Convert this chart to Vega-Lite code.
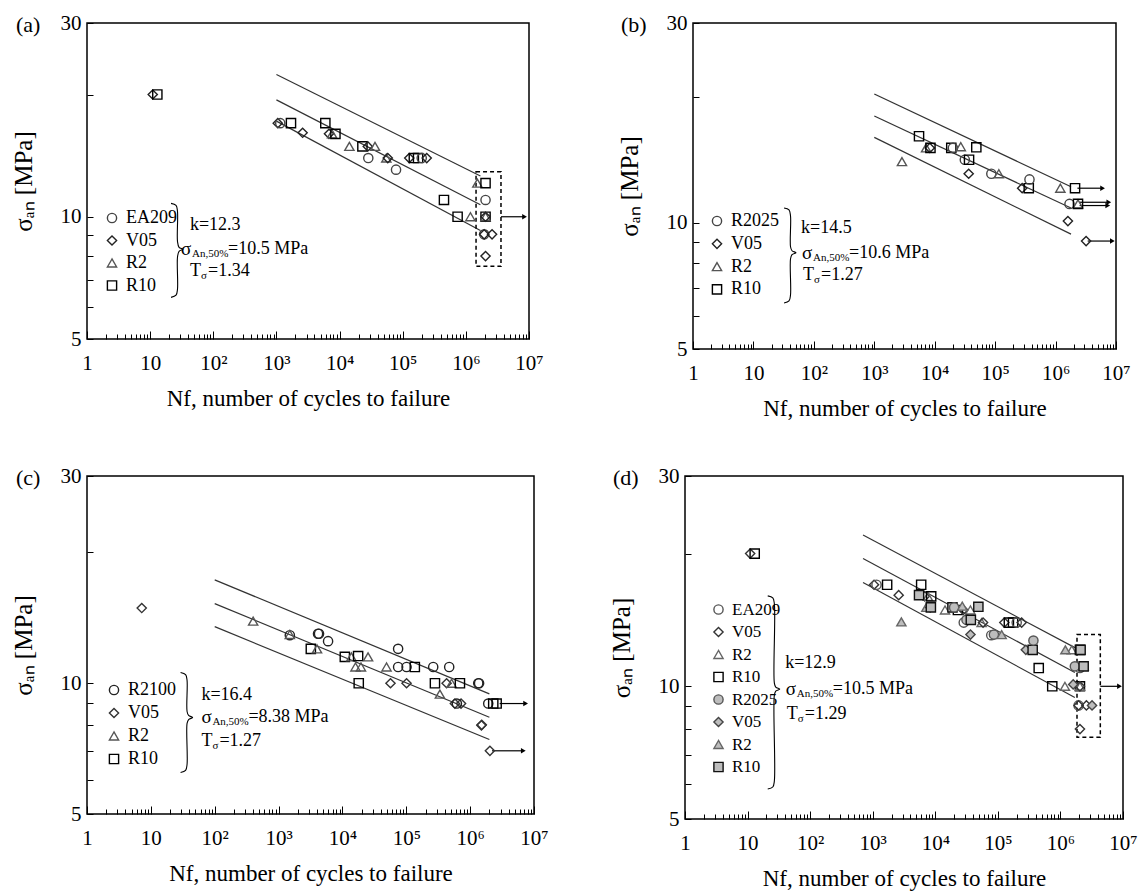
{
"$schema": "https://vega.github.io/schema/vega-lite/v6.json",
"background": "white",
"padding": {"left": 10, "top": 11, "right": 5, "bottom": 5},
"datasets": {
"a": [
{"s":"V05","N":11,"S":20.0},{"s":"R10","N":13,"S":20.0},
{"s":"V05","N":1050,"S":17.0},{"s":"EA209","N":1150,"S":17.0},{"s":"R10","N":1700,"S":17.0},
{"s":"V05","N":2600,"S":16.1},{"s":"R10","N":5950,"S":17.0},{"s":"V05","N":6800,"S":16.0},
{"s":"R2","N":7600,"S":16.0},{"s":"R10","N":8600,"S":16.0},{"s":"R2","N":14300,"S":14.9},
{"s":"R10","N":23000,"S":14.9},{"s":"V05","N":28000,"S":14.9},{"s":"R2","N":36400,"S":14.9},
{"s":"EA209","N":28500,"S":13.95},{"s":"R2","N":55000,"S":13.95},{"s":"V05","N":58000,"S":13.95},
{"s":"EA209","N":78400,"S":13.06},{"s":"V05","N":127000,"S":13.95},{"s":"R10","N":150000,"S":13.95},
{"s":"R10","N":175000,"S":13.95},{"s":"EA209","N":200000,"S":13.95},{"s":"V05","N":240000,"S":13.95},
{"s":"R2","N":1520000,"S":12.1},{"s":"R10","N":2050000,"S":12.1},{"s":"EA209","N":2050000,"S":11.0},
{"s":"R10","N":450000,"S":11.0},{"s":"R10","N":740000,"S":10.0},{"s":"R2","N":1180000,"S":10.0},
{"s":"R10","N":2050000,"S":10.0},{"s":"R2","N":2050000,"S":10.0},{"s":"V05","N":2050000,"S":10.0},
{"s":"EA209","N":1950000,"S":9.05},{"s":"V05","N":1950000,"S":9.05},{"s":"V05","N":2600000,"S":9.05},
{"s":"V05","N":2050000,"S":8.0}
],
"b": [
{"s":"R2b","N":2870,"S":14.0},{"s":"R10b","N":5500,"S":16.1},{"s":"R2b","N":7200,"S":15.1},
{"s":"V05b","N":8300,"S":15.1},{"s":"R10b","N":8500,"S":15.1},{"s":"R10b","N":18800,"S":15.1},
{"s":"R2025","N":20000,"S":15.1},{"s":"R2b","N":27000,"S":15.2},{"s":"R10b","N":48800,"S":15.15},
{"s":"R2025","N":31500,"S":14.15},{"s":"R10b","N":37000,"S":14.15},{"s":"V05b","N":36500,"S":13.1},
{"s":"R2025","N":86500,"S":13.1},{"s":"R2b","N":115000,"S":13.1},{"s":"V05b","N":280000,"S":12.1},
{"s":"R10b","N":360000,"S":12.1},{"s":"R2025","N":370000,"S":12.7},{"s":"R2b","N":1200000,"S":12.1},
{"s":"R10b","N":2100000,"S":12.1},{"s":"R2025","N":1700000,"S":11.1},{"s":"R2b","N":2350000,"S":11.1},
{"s":"R10b","N":2350000,"S":11.1},{"s":"V05b","N":1600000,"S":10.1},{"s":"V05b","N":3200000,"S":9.05}
],
"c": [
{"s":"V05","N":7.2,"S":14.9},{"s":"R2","N":400,"S":13.9},{"s":"R2100","N":1500,"S":12.9},
{"s":"R2","N":1500,"S":12.95},{"s":"R2100","N":4150,"S":13.0},{"s":"R2100","N":4300,"S":13.0},
{"s":"R2100","N":5960,"S":12.5},{"s":"R10","N":3200,"S":12.0},{"s":"R2","N":4000,"S":12.0},
{"s":"R10","N":10900,"S":11.5},{"s":"R2","N":13800,"S":11.5},{"s":"R10","N":17600,"S":11.55},
{"s":"R2","N":25200,"S":11.5},{"s":"R2","N":16000,"S":10.9},{"s":"R2","N":19500,"S":10.9},
{"s":"R10","N":18000,"S":10.0},{"s":"R2100","N":74500,"S":12.0},{"s":"R2","N":49000,"S":10.9},
{"s":"R2100","N":74500,"S":10.9},{"s":"R2100","N":101000,"S":10.9},{"s":"R10","N":136000,"S":10.9},
{"s":"V05","N":56600,"S":10.0},{"s":"V05","N":101000,"S":10.0},{"s":"R2100","N":264000,"S":10.9},
{"s":"R2100","N":470000,"S":10.9},{"s":"R10","N":281000,"S":10.0},{"s":"V05","N":428000,"S":10.0},
{"s":"R2","N":512000,"S":10.0},{"s":"R10","N":692000,"S":10.0},{"s":"R2","N":336000,"S":9.44},
{"s":"R2100","N":1340000,"S":10.0},{"s":"R2100","N":1380000,"S":10.0},{"s":"V05","N":577000,"S":8.98},
{"s":"V05","N":720000,"S":8.98},{"s":"R2100","N":620000,"S":8.98},{"s":"R2100","N":1920000,"S":8.98},
{"s":"R10","N":2300000,"S":8.98},{"s":"R10","N":2600000,"S":8.98},{"s":"V05","N":1500000,"S":8.0},
{"s":"V05","N":1520000,"S":8.02},{"s":"V05","N":2040000,"S":6.99}
],
"lines_a": [{"N":1000,"S":22.4,"N2":1700000,"S2":12.6},{"N":1000,"S":19.4,"N2":1700000,"S2":10.7},{"N":1000,"S":17.2,"N2":1700000,"S2":9.25}],
"lines_b": [{"N":1000,"S":20.3,"N2":1800000,"S2":12.2},{"N":1000,"S":18.0,"N2":1800000,"S2":10.85},{"N":1000,"S":16.0,"N2":1800000,"S2":9.4}],
"lines_c": [{"N":100,"S":17.3,"N2":2000000,"S2":9.45},{"N":100,"S":15.25,"N2":2000000,"S2":8.35},{"N":100,"S":13.5,"N2":2000000,"S2":7.42}],
"lines_d": [{"N":700,"S":22.05,"N2":1700000,"S2":12.24},{"N":700,"S":19.5,"N2":1700000,"S2":10.75},{"N":700,"S":17.2,"N2":1700000,"S2":9.43}],
"rect_a": [{"N":1450000,"N2":3600000,"S":7.55,"S2":12.9}],
"rect_d": [{"N":1840000,"N2":4340000,"S":7.66,"S2":13.1}],
"arr_a": [{"N0":3600000,"N":8500000,"S":10.0}],
"arr_b": [{"N0":2300000,"N":6000000,"S":12.1},{"N0":2500000,"N":7600000,"S":11.2},{"N0":2500000,"N":7300000,"S":11.0},{"N0":3400000,"N":8700000,"S":9.05}],
"arr_c": [{"N0":2900000,"N":7400000,"S":8.98},{"N0":2200000,"N":6800000,"S":6.99}],
"arr_d": [{"N0":4340000,"N":8800000,"S":10.0}],
"brace_a": [{"i":1,"N":21.4,"S":10.79},{"i":2,"N":25.7,"S":10.67},{"i":3,"N":27.1,"S":10.31},{"i":4,"N":27.1,"S":8.70},{"i":5,"N":28.7,"S":8.41},{"i":6,"N":33.1,"S":8.32},{"i":7,"N":28.7,"S":8.22},{"i":8,"N":27.1,"S":7.95},{"i":9,"N":27.1,"S":6.63},{"i":10,"N":25.7,"S":6.41},{"i":11,"N":21.4,"S":6.33}],
"brace_b": [{"i":1,"N":32.1,"S":10.85},{"i":2,"N":38.8,"S":10.74},{"i":3,"N":41.1,"S":10.38},{"i":4,"N":41.1,"S":8.77},{"i":5,"N":43.5,"S":8.58},{"i":6,"N":50.6,"S":8.49},{"i":7,"N":43.5,"S":8.40},{"i":8,"N":41.1,"S":8.21},{"i":9,"N":41.1,"S":6.74},{"i":10,"N":38.8,"S":6.51},{"i":11,"N":32.1,"S":6.44}],
"brace_c": [{"i":1,"N":29.2,"S":10.59},{"i":2,"N":35.0,"S":10.47},{"i":3,"N":36.9,"S":10.15},{"i":4,"N":36.9,"S":8.61},{"i":5,"N":39.0,"S":8.43},{"i":6,"N":45.1,"S":8.34},{"i":7,"N":39.0,"S":8.25},{"i":8,"N":36.9,"S":8.08},{"i":9,"N":36.9,"S":6.51},{"i":10,"N":35.0,"S":6.30},{"i":11,"N":29.2,"S":6.23}],
"brace_d": [{"i":1,"N":21.0,"S":16.04},{"i":2,"N":25.3,"S":15.87},{"i":3,"N":26.8,"S":15.38},{"i":4,"N":26.8,"S":10.17},{"i":5,"N":28.2,"S":9.96},{"i":6,"N":32.7,"S":9.86},{"i":7,"N":28.2,"S":9.75},{"i":8,"N":26.8,"S":9.55},{"i":9,"N":26.8,"S":6.10},{"i":10,"N":25.3,"S":5.91},{"i":11,"N":21.0,"S":5.85}]
},
"config": {
"font": "Liberation Serif",
"view": {"stroke": "#000", "strokeWidth": 1.5},
"axis": {"labelFont": "Liberation Serif", "titleFont": "Liberation Serif", "labelFontSize": 21, "titleFontSize": 23, "titleFontWeight": "normal", "labelColor": "#000", "titleColor": "#000", "tickColor": "#000", "tickWidth": 1, "domain": false, "grid": false},
"legend": {"labelFont": "Liberation Serif", "labelColor": "#000", "symbolStrokeWidth": 1.4, "symbolSize": 85, "padding": 0, "labelOffset": 5},
"text": {"font": "Liberation Serif", "color": "#000"}
},
"resolve": {"scale": {"shape": "independent", "fill": "independent", "stroke": "independent"}},
"spacing": 43,
"vconcat": [
{
"spacing": 72,
"resolve": {"scale": {"shape": "independent", "fill": "independent", "stroke": "independent"}},
"hconcat": [
{
"width": 442, "height": 316,
"title": {"text": "(a)", "anchor": "start", "frame": "group", "dx": -71, "offset": -35, "baseline": "middle", "fontSize": 22, "fontWeight": "normal", "font": "Liberation Serif", "color": "#000"},
"encoding": {
"x": {"field": "N", "type": "quantitative", "title": "Nf, number of cycles to failure", "scale": {"type": "log", "domain": [1, 10000000], "nice": false},
 "axis": {"values": [1,2,3,4,5,6,7,8,9,10,20,30,40,50,60,70,80,90,100,200,300,400,500,600,700,800,900,1000,2000,3000,4000,5000,6000,7000,8000,9000,10000,20000,30000,40000,50000,60000,70000,80000,90000,100000,200000,300000,400000,500000,600000,700000,800000,900000,1000000,2000000,3000000,4000000,5000000,6000000,7000000,8000000,9000000,10000000],
 "labelExpr": "datum.value == 1 ? '1' : datum.value == 10 ? '10' : datum.value == 100 ? '10²' : datum.value == 1000 ? '10³' : datum.value == 10000 ? '10⁴' : datum.value == 100000 ? '10⁵' : datum.value == 1000000 ? '10⁶' : datum.value == 10000000 ? '10⁷' : ''",
 "tickSize": {"condition": {"test": "indexof([1,10,100,1000,10000,100000,1000000,10000000], datum.value) >= 0", "value": -8}, "value": -5},
 "labelPadding": 21, "labelFlush": false, "labelOverlap": false, "minExtent": 32, "maxExtent": 32, "titlePadding": 16}},
"y": {"field": "S", "type": "quantitative", "title": "σₐₙ [MPa]", "scale": {"type": "log", "domain": [5, 30], "nice": false},
 "axis": {"values": [5,6,7,8,9,10,20,30], "labelExpr": "datum.value == 5 ? '5' : datum.value == 10 ? '10' : datum.value == 30 ? '30' : ''", "tickSize": -6, "labelPadding": 12, "minExtent": 30, "maxExtent": 30, "titlePadding": 21, "titleFontSize": 25}}
},
"layer": [
{"data": {"name": "lines_a"}, "mark": {"type": "rule", "color": "#333", "strokeWidth": 1.2}, "encoding": {"x2": {"field": "N2"}, "y2": {"field": "S2"}}},
{"data": {"name": "rect_a"}, "mark": {"type": "rect", "fill": "transparent", "stroke": "#000", "strokeWidth": 1.5, "strokeDash": [4, 3]}, "encoding": {"x2": {"field": "N2"}, "y2": {"field": "S2"}}},
{"data": {"name": "arr_a"}, "mark": {"type": "rule", "color": "#000", "strokeWidth": 1.2}, "encoding": {"x2": {"field": "N0"}}},
{"data": {"name": "arr_a"}, "mark": {"type": "point", "shape": "triangle-right", "filled": true, "color": "#000", "size": 30, "opacity": 1}},
{"data": {"name": "a"}, "mark": {"type": "point", "filled": true, "size": 85, "strokeWidth": 1.4, "opacity": 1},
 "encoding": {
 "shape": {"field": "s", "type": "nominal", "scale": {"domain": ["EA209","V05","R2","R10"], "range": ["circle","diamond","triangle-up","square"]}, "legend": {"orient": "none", "legendX": 16, "legendY": 186, "title": null, "labelFont": "Liberation Serif", "labelFontSize": 18, "rowPadding": 4.5}},
 "fill": {"field": "s", "type": "nominal", "scale": {"domain": ["EA209","V05","R2","R10"], "range": ["transparent","transparent","transparent","transparent"]}, "legend": {"orient": "none", "legendX": 16, "legendY": 186, "title": null, "labelFont": "Liberation Serif", "labelFontSize": 18, "rowPadding": 4.5}},
 "stroke": {"field": "s", "type": "nominal", "scale": {"domain": ["EA209","V05","R2","R10"], "range": ["#444","#222","#555","#000"]}, "legend": {"orient": "none", "legendX": 16, "legendY": 186, "title": null, "labelFont": "Liberation Serif", "labelFontSize": 18, "rowPadding": 4.5}}
 }},
{"data": {"name": "brace_a"}, "mark": {"type": "line", "color": "#000", "strokeWidth": 1.1, "interpolate": "catmull-rom"}, "encoding": {"order": {"field": "i", "type": "quantitative"}}},
{"data": {"values": [{"N": 42.6, "S": 9.53}]}, "mark": {"type": "text", "text": "k=12.3", "align": "left", "baseline": "middle", "fontSize": 18, "font": "Liberation Serif"}},
{"data": {"values": [{"N": 30.8, "S": 8.32}]}, "mark": {"type": "text", "text": "σ", "align": "left", "baseline": "middle", "fontSize": 19, "font": "Liberation Serif"}},
{"data": {"values": [{"N": 30.8, "S": 8.32}]}, "mark": {"type": "text", "text": "An,50%", "align": "left", "baseline": "middle", "fontSize": 11, "dx": 11, "dy": 5, "font": "Liberation Serif"}},
{"data": {"values": [{"N": 30.8, "S": 8.32}]}, "mark": {"type": "text", "text": "=10.5 MPa", "align": "left", "baseline": "middle", "fontSize": 18, "dx": 47, "font": "Liberation Serif"}},
{"data": {"values": [{"N": 42.8, "S": 7.35}]}, "mark": {"type": "text", "text": "T", "align": "left", "baseline": "middle", "fontSize": 18, "font": "Liberation Serif"}},
{"data": {"values": [{"N": 42.8, "S": 7.35}]}, "mark": {"type": "text", "text": "σ", "align": "left", "baseline": "middle", "fontSize": 11, "dx": 11, "dy": 5, "font": "Liberation Serif"}},
{"data": {"values": [{"N": 42.8, "S": 7.35}]}, "mark": {"type": "text", "text": "=1.34", "align": "left", "baseline": "middle", "fontSize": 18, "dx": 18, "font": "Liberation Serif"}}
]
},
{
"width": 423, "height": 326,
"title": {"text": "(b)", "anchor": "start", "frame": "group", "dx": -72, "offset": -35, "baseline": "middle", "fontSize": 22, "fontWeight": "normal", "font": "Liberation Serif", "color": "#000"},
"encoding": {
"x": {"field": "N", "type": "quantitative", "title": "Nf, number of cycles to failure", "scale": {"type": "log", "domain": [1, 10000000], "nice": false},
 "axis": {"values": [1,2,3,4,5,6,7,8,9,10,20,30,40,50,60,70,80,90,100,200,300,400,500,600,700,800,900,1000,2000,3000,4000,5000,6000,7000,8000,9000,10000,20000,30000,40000,50000,60000,70000,80000,90000,100000,200000,300000,400000,500000,600000,700000,800000,900000,1000000,2000000,3000000,4000000,5000000,6000000,7000000,8000000,9000000,10000000],
 "labelExpr": "datum.value == 1 ? '1' : datum.value == 10 ? '10' : datum.value == 100 ? '10²' : datum.value == 1000 ? '10³' : datum.value == 10000 ? '10⁴' : datum.value == 100000 ? '10⁵' : datum.value == 1000000 ? '10⁶' : datum.value == 10000000 ? '10⁷' : ''",
 "tickSize": {"condition": {"test": "indexof([1,10,100,1000,10000,100000,1000000,10000000], datum.value) >= 0", "value": -8}, "value": -5},
 "labelPadding": 21, "labelFlush": false, "labelOverlap": false, "minExtent": 32, "maxExtent": 32, "titlePadding": 16}},
"y": {"field": "S", "type": "quantitative", "title": "σₐₙ [MPa]", "scale": {"type": "log", "domain": [5, 30], "nice": false},
 "axis": {"values": [5,6,7,8,9,10,20,30], "labelExpr": "datum.value == 5 ? '5' : datum.value == 10 ? '10' : datum.value == 30 ? '30' : ''", "tickSize": -6, "labelPadding": 12, "minExtent": 30, "maxExtent": 30, "titlePadding": 21, "titleFontSize": 25}}
},
"layer": [
{"data": {"name": "lines_b"}, "mark": {"type": "rule", "color": "#333", "strokeWidth": 1.2}, "encoding": {"x2": {"field": "N2"}, "y2": {"field": "S2"}}},
{"data": {"name": "arr_b"}, "mark": {"type": "rule", "color": "#000", "strokeWidth": 1.2}, "encoding": {"x2": {"field": "N0"}}},
{"data": {"name": "arr_b"}, "mark": {"type": "point", "shape": "triangle-right", "filled": true, "color": "#000", "size": 30, "opacity": 1}},
{"data": {"name": "b"}, "mark": {"type": "point", "filled": true, "size": 85, "strokeWidth": 1.4, "opacity": 1},
 "encoding": {
 "shape": {"field": "s", "type": "nominal", "scale": {"domain": ["R2025","V05b","R2b","R10b"], "range": ["circle","diamond","triangle-up","square"]}, "legend": {"orient": "none", "legendX": 15, "legendY": 189, "title": null, "labelFont": "Liberation Serif", "labelFontSize": 18, "rowPadding": 4.8, "labelExpr": "replace(datum.label, 'b', '')"}},
 "fill": {"field": "s", "type": "nominal", "scale": {"domain": ["R2025","V05b","R2b","R10b"], "range": ["transparent","transparent","transparent","transparent"]}, "legend": {"orient": "none", "legendX": 15, "legendY": 189, "title": null, "labelFont": "Liberation Serif", "labelFontSize": 18, "rowPadding": 4.8, "labelExpr": "replace(datum.label, 'b', '')"}},
 "stroke": {"field": "s", "type": "nominal", "scale": {"domain": ["R2025","V05b","R2b","R10b"], "range": ["#444","#222","#555","#000"]}, "legend": {"orient": "none", "legendX": 15, "legendY": 189, "title": null, "labelFont": "Liberation Serif", "labelFontSize": 18, "rowPadding": 4.8, "labelExpr": "replace(datum.label, 'b', '')"}}
 }},
{"data": {"name": "brace_b"}, "mark": {"type": "line", "color": "#000", "strokeWidth": 1.1, "interpolate": "catmull-rom"}, "encoding": {"order": {"field": "i", "type": "quantitative"}}},
{"data": {"values": [{"N": 61.3, "S": 9.72}]}, "mark": {"type": "text", "text": "k=14.5", "align": "left", "baseline": "middle", "fontSize": 18, "font": "Liberation Serif"}},
{"data": {"values": [{"N": 63.6, "S": 8.47}]}, "mark": {"type": "text", "text": "σ", "align": "left", "baseline": "middle", "fontSize": 19, "font": "Liberation Serif"}},
{"data": {"values": [{"N": 63.6, "S": 8.47}]}, "mark": {"type": "text", "text": "An,50%", "align": "left", "baseline": "middle", "fontSize": 11, "dx": 11, "dy": 5, "font": "Liberation Serif"}},
{"data": {"values": [{"N": 63.6, "S": 8.47}]}, "mark": {"type": "text", "text": "=10.6 MPa", "align": "left", "baseline": "middle", "fontSize": 18, "dx": 47, "font": "Liberation Serif"}},
{"data": {"values": [{"N": 66.1, "S": 7.52}]}, "mark": {"type": "text", "text": "T", "align": "left", "baseline": "middle", "fontSize": 18, "font": "Liberation Serif"}},
{"data": {"values": [{"N": 66.1, "S": 7.52}]}, "mark": {"type": "text", "text": "σ", "align": "left", "baseline": "middle", "fontSize": 11, "dx": 11, "dy": 5, "font": "Liberation Serif"}},
{"data": {"values": [{"N": 66.1, "S": 7.52}]}, "mark": {"type": "text", "text": "=1.27", "align": "left", "baseline": "middle", "fontSize": 18, "dx": 18, "font": "Liberation Serif"}}
]
}
]
},
{
"spacing": 59,
"resolve": {"scale": {"shape": "independent", "fill": "independent", "stroke": "independent"}},
"hconcat": [
{
"width": 447, "height": 338,
"title": {"text": "(c)", "anchor": "start", "frame": "group", "dx": -71, "offset": -35, "baseline": "middle", "fontSize": 22, "fontWeight": "normal", "font": "Liberation Serif", "color": "#000"},
"encoding": {
"x": {"field": "N", "type": "quantitative", "title": "Nf, number of cycles to failure", "scale": {"type": "log", "domain": [1, 10000000], "nice": false},
 "axis": {"values": [1,2,3,4,5,6,7,8,9,10,20,30,40,50,60,70,80,90,100,200,300,400,500,600,700,800,900,1000,2000,3000,4000,5000,6000,7000,8000,9000,10000,20000,30000,40000,50000,60000,70000,80000,90000,100000,200000,300000,400000,500000,600000,700000,800000,900000,1000000,2000000,3000000,4000000,5000000,6000000,7000000,8000000,9000000,10000000],
 "labelExpr": "datum.value == 1 ? '1' : datum.value == 10 ? '10' : datum.value == 100 ? '10²' : datum.value == 1000 ? '10³' : datum.value == 10000 ? '10⁴' : datum.value == 100000 ? '10⁵' : datum.value == 1000000 ? '10⁶' : datum.value == 10000000 ? '10⁷' : ''",
 "tickSize": {"condition": {"test": "indexof([1,10,100,1000,10000,100000,1000000,10000000], datum.value) >= 0", "value": -8}, "value": -5},
 "labelPadding": 21, "labelFlush": false, "labelOverlap": false, "minExtent": 32, "maxExtent": 32, "titlePadding": 16}},
"y": {"field": "S", "type": "quantitative", "title": "σₐₙ [MPa]", "scale": {"type": "log", "domain": [5, 30], "nice": false},
 "axis": {"values": [5,6,7,8,9,10,20,30], "labelExpr": "datum.value == 5 ? '5' : datum.value == 10 ? '10' : datum.value == 30 ? '30' : ''", "tickSize": -6, "labelPadding": 12, "minExtent": 30, "maxExtent": 30, "titlePadding": 21, "titleFontSize": 25}}
},
"layer": [
{"data": {"name": "lines_c"}, "mark": {"type": "rule", "color": "#333", "strokeWidth": 1.2}, "encoding": {"x2": {"field": "N2"}, "y2": {"field": "S2"}}},
{"data": {"name": "arr_c"}, "mark": {"type": "rule", "color": "#000", "strokeWidth": 1.2}, "encoding": {"x2": {"field": "N0"}}},
{"data": {"name": "arr_c"}, "mark": {"type": "point", "shape": "triangle-right", "filled": true, "color": "#000", "size": 30, "opacity": 1}},
{"data": {"name": "c"}, "mark": {"type": "point", "filled": true, "size": 85, "strokeWidth": 1.4, "opacity": 1},
 "encoding": {
 "shape": {"field": "s", "type": "nominal", "scale": {"domain": ["R2100","V05","R2","R10"], "range": ["circle","diamond","triangle-up","square"]}, "legend": {"orient": "none", "legendX": 18, "legendY": 205, "title": null, "labelFont": "Liberation Serif", "labelFontSize": 18, "rowPadding": 5}},
 "fill": {"field": "s", "type": "nominal", "scale": {"domain": ["R2100","V05","R2","R10"], "range": ["transparent","transparent","transparent","transparent"]}, "legend": {"orient": "none", "legendX": 18, "legendY": 205, "title": null, "labelFont": "Liberation Serif", "labelFontSize": 18, "rowPadding": 5}},
 "stroke": {"field": "s", "type": "nominal", "scale": {"domain": ["R2100","V05","R2","R10"], "range": ["#222","#333","#555","#000"]}, "legend": {"orient": "none", "legendX": 18, "legendY": 205, "title": null, "labelFont": "Liberation Serif", "labelFontSize": 18, "rowPadding": 5}}
 }},
{"data": {"name": "brace_c"}, "mark": {"type": "line", "color": "#000", "strokeWidth": 1.1, "interpolate": "catmull-rom"}, "encoding": {"order": {"field": "i", "type": "quantitative"}}},
{"data": {"values": [{"N": 61.9, "S": 9.41}]}, "mark": {"type": "text", "text": "k=16.4", "align": "left", "baseline": "middle", "fontSize": 18, "font": "Liberation Serif"}},
{"data": {"values": [{"N": 61.9, "S": 8.34}]}, "mark": {"type": "text", "text": "σ", "align": "left", "baseline": "middle", "fontSize": 19, "font": "Liberation Serif"}},
{"data": {"values": [{"N": 61.9, "S": 8.34}]}, "mark": {"type": "text", "text": "An,50%", "align": "left", "baseline": "middle", "fontSize": 11, "dx": 11, "dy": 5, "font": "Liberation Serif"}},
{"data": {"values": [{"N": 61.9, "S": 8.34}]}, "mark": {"type": "text", "text": "=8.38 MPa", "align": "left", "baseline": "middle", "fontSize": 18, "dx": 47, "font": "Liberation Serif"}},
{"data": {"values": [{"N": 61.9, "S": 7.37}]}, "mark": {"type": "text", "text": "T", "align": "left", "baseline": "middle", "fontSize": 18, "font": "Liberation Serif"}},
{"data": {"values": [{"N": 61.9, "S": 7.37}]}, "mark": {"type": "text", "text": "σ", "align": "left", "baseline": "middle", "fontSize": 11, "dx": 11, "dy": 5, "font": "Liberation Serif"}},
{"data": {"values": [{"N": 61.9, "S": 7.37}]}, "mark": {"type": "text", "text": "=1.27", "align": "left", "baseline": "middle", "fontSize": 18, "dx": 18, "font": "Liberation Serif"}}
]
},
{
"width": 438, "height": 343,
"title": {"text": "(d)", "anchor": "start", "frame": "group", "dx": -72, "offset": -35, "baseline": "middle", "fontSize": 22, "fontWeight": "normal", "font": "Liberation Serif", "color": "#000"},
"encoding": {
"x": {"field": "N", "type": "quantitative", "title": "Nf, number of cycles to failure", "scale": {"type": "log", "domain": [1, 10000000], "nice": false},
 "axis": {"values": [1,2,3,4,5,6,7,8,9,10,20,30,40,50,60,70,80,90,100,200,300,400,500,600,700,800,900,1000,2000,3000,4000,5000,6000,7000,8000,9000,10000,20000,30000,40000,50000,60000,70000,80000,90000,100000,200000,300000,400000,500000,600000,700000,800000,900000,1000000,2000000,3000000,4000000,5000000,6000000,7000000,8000000,9000000,10000000],
 "labelExpr": "datum.value == 1 ? '1' : datum.value == 10 ? '10' : datum.value == 100 ? '10²' : datum.value == 1000 ? '10³' : datum.value == 10000 ? '10⁴' : datum.value == 100000 ? '10⁵' : datum.value == 1000000 ? '10⁶' : datum.value == 10000000 ? '10⁷' : ''",
 "tickSize": {"condition": {"test": "indexof([1,10,100,1000,10000,100000,1000000,10000000], datum.value) >= 0", "value": -8}, "value": -5},
 "labelPadding": 21, "labelFlush": false, "labelOverlap": false, "minExtent": 32, "maxExtent": 32, "titlePadding": 16}},
"y": {"field": "S", "type": "quantitative", "title": "σₐₙ [MPa]", "scale": {"type": "log", "domain": [5, 30], "nice": false},
 "axis": {"values": [5,6,7,8,9,10,20,30], "labelExpr": "datum.value == 5 ? '5' : datum.value == 10 ? '10' : datum.value == 30 ? '30' : ''", "tickSize": -6, "labelPadding": 12, "minExtent": 30, "maxExtent": 30, "titlePadding": 21, "titleFontSize": 25}}
},
"layer": [
{"data": {"name": "lines_d"}, "mark": {"type": "rule", "color": "#333", "strokeWidth": 1.2}, "encoding": {"x2": {"field": "N2"}, "y2": {"field": "S2"}}},
{"data": {"name": "rect_d"}, "mark": {"type": "rect", "fill": "transparent", "stroke": "#000", "strokeWidth": 1.5, "strokeDash": [4, 3]}, "encoding": {"x2": {"field": "N2"}, "y2": {"field": "S2"}}},
{"data": {"name": "arr_d"}, "mark": {"type": "rule", "color": "#000", "strokeWidth": 1.2}, "encoding": {"x2": {"field": "N0"}}},
{"data": {"name": "arr_d"}, "mark": {"type": "point", "shape": "triangle-right", "filled": true, "color": "#000", "size": 30, "opacity": 1}},
{"data": {"name": "a"}, "mark": {"type": "point", "filled": true, "size": 85, "strokeWidth": 1.4, "opacity": 1},
 "encoding": {
 "shape": {"field": "s", "type": "nominal", "scale": {"domain": ["EA209","V05","R2","R10","R2025","V05b","R2b","R10b"], "range": ["circle","diamond","triangle-up","square","circle","diamond","triangle-up","square"]}, "legend": {"orient": "none", "legendX": 25, "legendY": 125, "title": null, "labelFont": "Liberation Serif", "labelFontSize": 17, "rowPadding": 4.5, "labelExpr": "replace(datum.label, 'b', '')"}},
 "fill": {"field": "s", "type": "nominal", "scale": {"domain": ["EA209","V05","R2","R10","R2025","V05b","R2b","R10b"], "range": ["transparent","transparent","transparent","transparent","#bdbdbd","#bdbdbd","#bdbdbd","#bdbdbd"]}, "legend": {"orient": "none", "legendX": 25, "legendY": 125, "title": null, "labelFont": "Liberation Serif", "labelFontSize": 17, "rowPadding": 4.5, "labelExpr": "replace(datum.label, 'b', '')"}},
 "stroke": {"field": "s", "type": "nominal", "scale": {"domain": ["EA209","V05","R2","R10","R2025","V05b","R2b","R10b"], "range": ["#555","#333","#666","#000","#555","#444","#666","#111"]}, "legend": {"orient": "none", "legendX": 25, "legendY": 125, "title": null, "labelFont": "Liberation Serif", "labelFontSize": 17, "rowPadding": 4.5, "labelExpr": "replace(datum.label, 'b', '')"}}
 }},
{"data": {"name": "b"}, "mark": {"type": "point", "filled": true, "size": 85, "strokeWidth": 1.4, "opacity": 1},
 "encoding": {
 "shape": {"field": "s", "type": "nominal"},
 "fill": {"field": "s", "type": "nominal"},
 "stroke": {"field": "s", "type": "nominal"}
 }},
{"data": {"name": "brace_d"}, "mark": {"type": "line", "color": "#000", "strokeWidth": 1.1, "interpolate": "catmull-rom"}, "encoding": {"order": {"field": "i", "type": "quantitative"}}},
{"data": {"values": [{"N": 39.9, "S": 11.32}]}, "mark": {"type": "text", "text": "k=12.9", "align": "left", "baseline": "middle", "fontSize": 18, "font": "Liberation Serif"}},
{"data": {"values": [{"N": 40.8, "S": 9.86}]}, "mark": {"type": "text", "text": "σ", "align": "left", "baseline": "middle", "fontSize": 19, "font": "Liberation Serif"}},
{"data": {"values": [{"N": 40.8, "S": 9.86}]}, "mark": {"type": "text", "text": "An,50%", "align": "left", "baseline": "middle", "fontSize": 11, "dx": 11, "dy": 5, "font": "Liberation Serif"}},
{"data": {"values": [{"N": 40.8, "S": 9.86}]}, "mark": {"type": "text", "text": "=10.5 MPa", "align": "left", "baseline": "middle", "fontSize": 18, "dx": 47, "font": "Liberation Serif"}},
{"data": {"values": [{"N": 42.3, "S": 8.65}]}, "mark": {"type": "text", "text": "T", "align": "left", "baseline": "middle", "fontSize": 18, "font": "Liberation Serif"}},
{"data": {"values": [{"N": 42.3, "S": 8.65}]}, "mark": {"type": "text", "text": "σ", "align": "left", "baseline": "middle", "fontSize": 11, "dx": 11, "dy": 5, "font": "Liberation Serif"}},
{"data": {"values": [{"N": 42.3, "S": 8.65}]}, "mark": {"type": "text", "text": "=1.29", "align": "left", "baseline": "middle", "fontSize": 18, "dx": 18, "font": "Liberation Serif"}}
]
}
]
}
]
}
